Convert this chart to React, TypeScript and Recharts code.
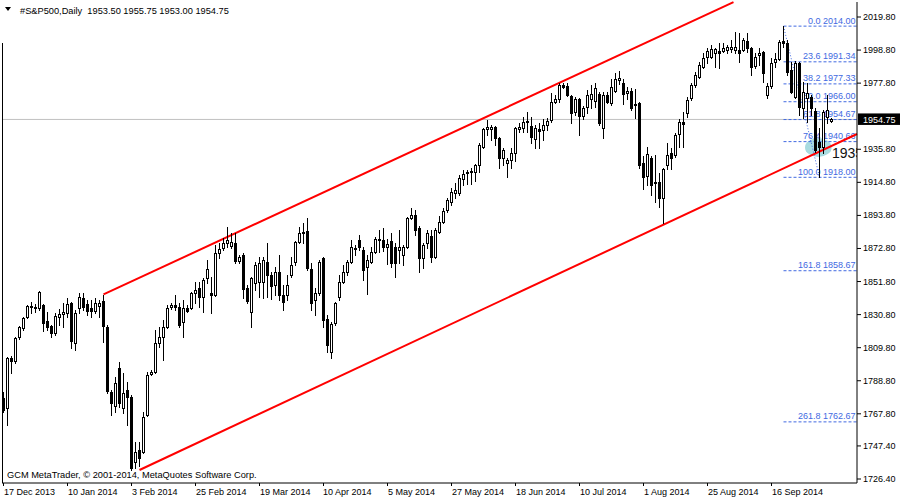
import React from 'react';
import { ComposedChart, Bar, XAxis, YAxis, ReferenceLine, ReferenceDot } from 'recharts';

const opens = [
  1777.9, 1771.5, 1803.3, 1801.4, 1816.6, 1822.3, 1829.3, 1835.7, 1835.0, 1835.0,
  1836.9, 1826.8, 1823.6, 1819.1, 1829.3, 1831.2, 1831.8, 1838.2, 1812.8, 1835.0,
  1841.4, 1837.6, 1835.0, 1833.1, 1836.3, 1839.5, 1823.0, 1781.7, 1772.8, 1796.9,
  1771.5, 1783.0, 1778.5, 1737.2, 1744.9, 1743.6, 1767.1, 1793.1, 1794.4, 1812.8,
  1816.6, 1823.0, 1835.7, 1836.9, 1835.7, 1826.1, 1835.0, 1835.0, 1844.5, 1847.7,
  1842.0, 1854.1, 1844.5, 1843.3, 1869.9, 1873.1, 1876.3, 1874.4, 1876.3, 1864.9,
  1868.7, 1847.7, 1832.5, 1850.9, 1851.5, 1851.5, 1864.2, 1856.0, 1849.6, 1857.9,
  1843.3, 1843.3, 1856.0, 1864.2, 1876.9, 1882.6, 1883.9, 1859.8, 1840.1, 1844.5,
  1866.8, 1828.0, 1807.1, 1825.5, 1842.0, 1851.5, 1857.9, 1864.2, 1872.5, 1878.2,
  1871.8, 1861.1, 1864.2, 1870.6, 1878.2, 1878.2, 1873.8, 1877.6, 1873.8, 1871.8,
  1868.7, 1873.8, 1892.2, 1894.1, 1885.8, 1866.8, 1876.3, 1880.7, 1867.4, 1883.3,
  1889.6, 1897.2, 1902.3, 1908.0, 1908.0, 1916.9, 1920.7, 1921.4, 1921.4, 1925.8,
  1937.3, 1948.7, 1948.7, 1950.0, 1943.0, 1930.3, 1927.1, 1929.0, 1933.4, 1948.7,
  1949.3, 1953.1, 1950.6, 1942.3, 1948.7, 1948.0, 1951.2, 1954.4, 1965.8, 1967.7,
  1976.6, 1976.0, 1969.6, 1959.5, 1967.7, 1956.9, 1962.7, 1967.7, 1966.5, 1970.9,
  1949.3, 1970.3, 1965.2, 1972.8, 1979.8, 1977.9, 1971.5, 1972.8, 1964.6, 1965.2,
  1927.1, 1918.8, 1930.3, 1915.0, 1915.0, 1904.9, 1925.8, 1933.4, 1932.2, 1945.5,
  1953.1, 1958.8, 1968.4, 1976.6, 1981.7, 1988.1, 1994.4, 1994.4, 1996.9, 1998.2,
  1998.2, 1998.8, 1999.5, 1998.8, 1998.8, 1998.8, 2004.6, 2000.1, 1988.7, 1995.7,
  1997.6, 1970.3, 1976.0, 1991.2, 1993.1, 2004.6, 2003.3, 1986.2, 1969.0, 1990.6,
  1962.0, 1968.4, 1969.0, 1960.1, 1940.4, 1937.3, 1956.3, 1953.5
];
const highs = [
  1781.7, 1803.9, 1804.5, 1816.6, 1823.6, 1829.3, 1836.9, 1838.8, 1837.6, 1845.8,
  1837.6, 1832.5, 1824.2, 1831.8, 1834.4, 1838.2, 1841.4, 1838.8, 1833.8, 1844.5,
  1844.5, 1840.1, 1840.1, 1841.4, 1840.1, 1843.3, 1824.2, 1783.0, 1791.2, 1800.7,
  1793.7, 1788.0, 1779.8, 1749.9, 1749.9, 1769.0, 1794.4, 1795.6, 1821.0, 1823.0,
  1827.4, 1836.9, 1838.2, 1843.3, 1838.2, 1840.1, 1836.9, 1845.2, 1851.5, 1851.5,
  1854.1, 1865.5, 1854.7, 1875.0, 1876.3, 1879.5, 1886.5, 1882.6, 1882.6, 1868.7,
  1869.9, 1849.6, 1854.7, 1864.2, 1867.4, 1867.4, 1876.3, 1857.9, 1861.1, 1868.7,
  1849.6, 1856.0, 1867.4, 1877.6, 1886.5, 1889.0, 1892.2, 1863.6, 1847.7, 1865.5,
  1867.4, 1830.6, 1826.1, 1838.8, 1856.0, 1862.3, 1865.5, 1878.2, 1875.0, 1881.4,
  1873.8, 1868.7, 1873.8, 1880.1, 1884.5, 1885.8, 1878.8, 1882.6, 1876.3, 1884.5,
  1875.0, 1892.8, 1898.5, 1897.2, 1887.1, 1876.3, 1884.5, 1884.5, 1885.8, 1893.4,
  1898.5, 1904.9, 1911.2, 1914.4, 1919.5, 1922.6, 1922.6, 1923.9, 1926.5, 1939.8,
  1949.3, 1954.4, 1951.2, 1950.6, 1943.6, 1936.6, 1930.3, 1936.6, 1950.0, 1952.5,
  1956.3, 1959.5, 1956.3, 1951.2, 1952.5, 1955.0, 1955.7, 1971.5, 1970.3, 1977.9,
  1977.9, 1977.9, 1970.3, 1969.0, 1968.4, 1963.3, 1973.5, 1976.6, 1977.9, 1972.2,
  1972.2, 1972.2, 1980.4, 1984.2, 1985.5, 1980.4, 1975.4, 1974.7, 1974.1, 1965.8,
  1931.5, 1937.3, 1931.5, 1932.2, 1920.7, 1923.9, 1939.8, 1936.6, 1946.1, 1955.0,
  1959.5, 1969.0, 1977.9, 1984.9, 1991.2, 1996.9, 2000.1, 2002.0, 2000.1, 2003.3,
  2003.3, 2002.0, 2005.2, 2010.3, 2009.6, 2006.5, 2009.6, 2000.8, 1996.9, 2000.1,
  1998.2, 1977.9, 1993.8, 1996.9, 2005.2, 2014.0, 2005.2, 1991.2, 1991.9, 1991.2,
  1978.5, 1977.9, 1970.3, 1962.0, 1949.3, 1960.5, 1970.3, 1955.75
];
const lows = [
  1769.0, 1760.7, 1793.7, 1800.1, 1815.3, 1821.0, 1828.7, 1831.8, 1832.5, 1833.8,
  1820.4, 1821.0, 1816.6, 1817.9, 1824.2, 1823.0, 1829.3, 1809.6, 1808.4, 1831.8,
  1833.8, 1830.6, 1829.3, 1831.8, 1829.3, 1813.4, 1781.0, 1767.1, 1769.0, 1772.2,
  1768.3, 1760.7, 1732.1, 1733.4, 1734.7, 1742.9, 1766.4, 1792.5, 1793.7, 1810.3,
  1802.0, 1822.3, 1834.4, 1833.8, 1823.0, 1816.6, 1832.5, 1834.4, 1838.2, 1835.7,
  1832.5, 1850.9, 1831.8, 1842.6, 1866.8, 1871.8, 1873.8, 1873.1, 1863.6, 1863.6,
  1841.4, 1838.2, 1823.0, 1846.4, 1842.0, 1841.4, 1842.0, 1840.7, 1843.3, 1840.1,
  1833.8, 1840.1, 1854.7, 1862.3, 1876.3, 1876.3, 1859.1, 1833.8, 1830.6, 1843.3,
  1823.0, 1807.1, 1803.3, 1824.2, 1840.1, 1850.9, 1856.0, 1863.6, 1868.7, 1871.8,
  1852.8, 1843.9, 1863.6, 1869.9, 1870.6, 1871.2, 1863.0, 1861.1, 1854.7, 1863.6,
  1862.3, 1873.1, 1891.5, 1881.4, 1857.9, 1860.4, 1873.1, 1864.2, 1866.8, 1882.6,
  1889.0, 1896.0, 1900.4, 1904.9, 1906.8, 1913.1, 1913.8, 1913.8, 1915.7, 1921.4,
  1936.6, 1944.9, 1941.7, 1938.5, 1923.9, 1925.8, 1918.2, 1923.9, 1928.4, 1946.8,
  1946.8, 1946.8, 1939.8, 1936.6, 1936.6, 1941.7, 1948.0, 1953.1, 1965.2, 1965.8,
  1974.7, 1969.6, 1952.5, 1957.6, 1944.9, 1955.0, 1958.8, 1962.0, 1962.7, 1951.2,
  1943.0, 1965.2, 1963.9, 1972.2, 1977.3, 1964.6, 1967.7, 1960.8, 1955.7, 1923.9,
  1910.6, 1913.1, 1906.8, 1902.3, 1899.2, 1889.0, 1923.3, 1923.3, 1930.9, 1937.3,
  1937.3, 1956.3, 1967.1, 1975.4, 1981.1, 1987.4, 1990.6, 1993.8, 1988.1, 1987.4,
  1997.6, 1996.9, 1997.6, 1996.9, 1991.2, 1998.2, 1997.6, 1983.0, 1987.4, 1989.3,
  1978.5, 1968.4, 1974.7, 1988.1, 1992.5, 2000.8, 1983.0, 1971.5, 1968.4, 1957.6,
  1955.7, 1953.1, 1957.6, 1934.1, 1918.0, 1933.4, 1952.5, 1953.0
];
const closes = [
  1770.2, 1803.3, 1801.4, 1816.0, 1823.0, 1828.7, 1836.3, 1836.3, 1835.7, 1845.2,
  1825.5, 1823.0, 1819.1, 1829.9, 1831.2, 1832.5, 1837.6, 1814.1, 1831.8, 1842.0,
  1835.7, 1833.1, 1833.1, 1838.2, 1838.2, 1823.6, 1782.3, 1774.7, 1787.4, 1774.7,
  1781.0, 1778.5, 1733.4, 1743.6, 1739.8, 1765.8, 1792.5, 1794.4, 1812.8, 1816.6,
  1823.0, 1835.0, 1836.9, 1835.7, 1824.2, 1835.0, 1833.1, 1844.5, 1846.4, 1842.0,
  1852.8, 1859.8, 1843.3, 1869.9, 1872.5, 1876.3, 1878.2, 1876.9, 1864.9, 1867.4,
  1847.1, 1839.5, 1854.1, 1862.3, 1863.6, 1865.5, 1856.0, 1849.0, 1857.9, 1843.3,
  1838.8, 1849.6, 1862.3, 1876.9, 1882.6, 1883.3, 1860.4, 1838.2, 1844.5, 1864.2,
  1827.4, 1811.5, 1824.9, 1838.2, 1851.5, 1857.9, 1864.2, 1873.8, 1873.1, 1873.8,
  1859.1, 1865.5, 1870.6, 1878.8, 1878.8, 1873.8, 1875.7, 1863.6, 1863.6, 1873.8,
  1873.8, 1892.2, 1894.1, 1884.5, 1866.8, 1875.0, 1882.6, 1867.4, 1884.5, 1889.6,
  1896.6, 1903.6, 1908.7, 1910.0, 1917.6, 1920.1, 1921.4, 1922.0, 1925.8, 1938.5,
  1948.7, 1950.0, 1950.0, 1943.0, 1930.3, 1935.4, 1929.0, 1933.4, 1949.3, 1950.0,
  1953.1, 1953.8, 1943.6, 1949.3, 1947.4, 1951.2, 1953.8, 1965.8, 1967.7, 1976.6,
  1975.4, 1970.3, 1958.8, 1967.7, 1956.9, 1962.0, 1970.3, 1970.9, 1974.7, 1952.5,
  1970.3, 1965.8, 1975.4, 1980.4, 1981.1, 1970.9, 1972.8, 1962.0, 1963.9, 1925.8,
  1918.2, 1932.8, 1913.1, 1914.4, 1904.9, 1923.3, 1932.2, 1930.3, 1944.9, 1953.1,
  1951.9, 1967.1, 1976.6, 1983.0, 1989.3, 1993.8, 1998.2, 1999.5, 1999.5, 1996.9,
  2000.1, 2000.8, 2000.8, 2000.8, 1996.9, 2005.2, 2000.1, 1988.1, 1994.4, 1996.9,
  1984.2, 1976.0, 1990.6, 1993.1, 2003.9, 2003.3, 1984.9, 1972.2, 1990.6, 1962.7,
  1972.2, 1971.5, 1962.0, 1935.4, 1937.3, 1959.5, 1960.8, 1954.75
];

const dateTickIndex = [0, 16, 32, 48, 64, 80, 96, 112, 128, 144, 160, 176, 192];
const dateTickLabels = [
  '17 Dec 2013', '10 Jan 2014', '3 Feb 2014', '25 Feb 2014', '19 Mar 2014', '10 Apr 2014',
  '5 May 2014', '27 May 2014', '18 Jun 2014', '10 Jul 2014', '1 Aug 2014', '25 Aug 2014', '16 Sep 2014'
];
const priceTicks = [2019.8, 1998.8, 1977.8, 1935.8, 1914.8, 1893.8, 1872.8, 1851.8, 1830.8, 1809.8, 1788.8, 1767.8, 1747.4, 1726.4];

const fibRatios = ['0.0', '23.6', '38.2', '50.0', '61.8', '76.4', '100.0', '161.8', '261.8'];
const fibPrices = [2014.0, 1991.34, 1977.33, 1966.0, 1954.67, 1940.66, 1918.0, 1858.67, 1762.67];
const fibFromBar = 195;
const fibToBar = 204;

const upperChannel = [{ x: 25, y: 1843.6 }, { x: 182.5, y: 2029.3 }];
const lowerChannel = [{ x: 34, y: 1732.1 }, { x: 213.375, y: 1945.5 }];
const bidPrice = 1954.75;
const headerText = '#S&P500,Daily  1953.50 1955.75 1953.00 1954.75';
const copyrightText = 'GCM MetaTrader, \u00A9 2001-2014, MetaQuotes Software Corp.';
const markLabel = '1935';
const markPoint = { x: 207.1, y: 1930.3 };
const ellipsePoint = { x: 203.7, y: 1937.0 };

const CHART_W = 900;
const CHART_H = 500;
const MARGIN = { top: 2, right: 0, bottom: 0, left: 2 };
const Y_AXIS_W = 43;
const X_AXIS_H = 17;
const PLOT_RIGHT = CHART_W - MARGIN.right - Y_AXIS_W;

const X_MIN = -0.375;
const X_MAX = 213.375;
const Y_MIN = 1723.86;
const Y_MAX = 2029.33;

const FONT = "'Liberation Sans', Arial, sans-serif";
const FIB_COLOR = '#4169E1';

const data = opens.map((o, i) => ({ i, open: o, high: highs[i], low: lows[i], close: closes[i] }));

const Candle = (props: any) => {
  const { x, y, width, height, payload } = props;
  if (!payload || height == null) return null;
  const { open, close, high, low } = payload;
  const c = Math.floor(x + width / 2);
  const k = high - low > 0 ? height / (high - low) : 0;
  const yOf = (v: number) => Math.round(y + (high - v) * k);
  const yH = yOf(high);
  const yL = yOf(low);
  const yO = yOf(open);
  const yC = yOf(close);
  const bt = Math.min(yO, yC);
  const bb = Math.max(yO, yC);
  const bull = close >= open;
  return (
    <g shapeRendering="crispEdges">
      <line x1={c + 0.5} x2={c + 0.5} y1={yH} y2={yL + 1} stroke="#000" strokeWidth={1} />
      {bb === bt ? (
        <line x1={c - 1} x2={c + 2} y1={bt + 0.5} y2={bt + 0.5} stroke="#000" strokeWidth={1} />
      ) : bull ? (
        <rect x={c - 0.5} y={bt + 0.5} width={2} height={bb - bt} fill="#fff" stroke="#000" strokeWidth={1} />
      ) : (
        <rect x={c - 1} y={bt} width={3} height={bb - bt + 1} fill="#000" />
      )}
    </g>
  );
};

const DateTick = (props: any) => {
  const { x, y, payload } = props;
  const idx = dateTickIndex.indexOf(payload.value);
  return (
    <text x={Math.round(x)} y={y + 7} fontSize={9} fontFamily={FONT} fill="#000" textAnchor="start">
      {idx >= 0 ? dateTickLabels[idx] : ''}
    </text>
  );
};

const PriceTick = (props: any) => {
  const { x, y, payload } = props;
  return (
    <text x={x} y={y + 3} fontSize={9} fontFamily={FONT} fill="#000" textAnchor="start">
      {Number(payload.value).toFixed(2)}
    </text>
  );
};

const BidTag = (props: any) => {
  const vb = props.viewBox || {};
  const right = (vb.x || 0) + (vb.width || 0);
  const yy = vb.y || 0;
  return (
    <g>
      <rect x={right + 1} y={yy - 6} width={44} height={11.5} fill="#000" />
      <text x={right + 6} y={yy + 3.5} fontSize={9} fontFamily={FONT} fill="#fff">
        {bidPrice.toFixed(2)}
      </text>
    </g>
  );
};

const MarkText = (p: any) => {
  const w = Math.max(0, PLOT_RIGHT - p.cx);
  return (
    <svg x={p.cx} y={p.cy - 16} width={w} height={22} overflow="hidden">
      <text x={0} y={16} fontSize={14} fontFamily={FONT} fill="#111">
        {markLabel}
      </text>
    </svg>
  );
};

export default function App() {
  return (
    <div style={{ position: 'absolute', left: 0, top: 0, width: CHART_W, height: CHART_H, background: '#fff' }}>
      <ComposedChart width={CHART_W} height={CHART_H} data={data} margin={MARGIN}>
        <XAxis
          dataKey="i"
          type="number"
          domain={[X_MIN, X_MAX]}
          allowDataOverflow
          ticks={dateTickIndex}
          interval={0}
          height={X_AXIS_H}
          tickSize={3}
          tickMargin={2}
          axisLine={{ stroke: '#000' }}
          tickLine={{ stroke: '#000' }}
          tick={<DateTick />}
        />
        <YAxis
          orientation="right"
          type="number"
          domain={[Y_MIN, Y_MAX]}
          allowDataOverflow
          ticks={priceTicks}
          interval={0}
          width={Y_AXIS_W}
          tickSize={4}
          tickMargin={2}
          axisLine={{ stroke: '#000' }}
          tickLine={{ stroke: '#000' }}
          tick={<PriceTick />}
        />
        <ReferenceDot
          x={ellipsePoint.x}
          y={ellipsePoint.y}
          ifOverflow="hidden"
          zIndex={90}
          shape={(p: any) => <ellipse cx={p.cx} cy={p.cy} rx={13.3} ry={9.5} fill="#a8dbe0" />}
        />
        <ReferenceLine y={bidPrice} stroke="#c0c0c0" strokeWidth={1} zIndex={100} label={BidTag} />
        {fibPrices.map((p, k) => (
          <ReferenceLine
            key={'fl' + k}
            segment={[{ x: fibFromBar, y: p }, { x: X_MAX, y: p }]}
            stroke={FIB_COLOR}
            strokeDasharray="3 2"
            strokeWidth={1}
            ifOverflow="visible"
            zIndex={100}
          />
        ))}
        {fibPrices.map((p, k) => (
          <ReferenceDot
            key={'ft' + k}
            x={X_MAX}
            y={p}
            ifOverflow="visible"
            zIndex={100}
            shape={(q: any) => (
              <text x={q.cx - 1.5} y={q.cy - 2.5} fontSize={9} fontFamily={FONT} fill={FIB_COLOR} textAnchor="end">
                {fibRatios[k] + ' ' + p.toFixed(2)}
              </text>
            )}
          />
        ))}
        <ReferenceLine
          segment={[{ x: fibFromBar, y: fibPrices[0] }, { x: fibToBar, y: fibPrices[6] }]}
          stroke={FIB_COLOR}
          strokeDasharray="1 2"
          strokeWidth={1}
          ifOverflow="visible"
          zIndex={100}
        />
        <ReferenceLine segment={upperChannel} stroke="#ff0000" strokeWidth={2} ifOverflow="visible" zIndex={110} />
        <ReferenceLine segment={lowerChannel} stroke="#ff0000" strokeWidth={2} ifOverflow="visible" zIndex={110} />
        <ReferenceDot x={markPoint.x} y={markPoint.y} ifOverflow="visible" zIndex={110} shape={MarkText} />
        <Bar dataKey={(d: any) => [d.low, d.high]} barSize={3} shape={Candle} isAnimationActive={false} />
      </ComposedChart>
      <svg
        width={CHART_W}
        height={CHART_H}
        style={{ position: 'absolute', left: 0, top: 0, pointerEvents: 'none' }}
      >
        <line x1={2.5} x2={2.5} y1={43} y2={CHART_H - X_AXIS_H} stroke="#000" strokeWidth={1} />
        <path d="M5,7 L11,7 L8,11 Z" fill="#000" />
        <text x={20} y={14} fontSize={9.25} fontFamily={FONT} fill="#000" style={{ whiteSpace: 'pre' }}>
          {headerText}
        </text>
        <text x={7} y={477.5} fontSize={9.25} fontFamily={FONT} fill="#000">
          {copyrightText}
        </text>
      </svg>
    </div>
  );
}
